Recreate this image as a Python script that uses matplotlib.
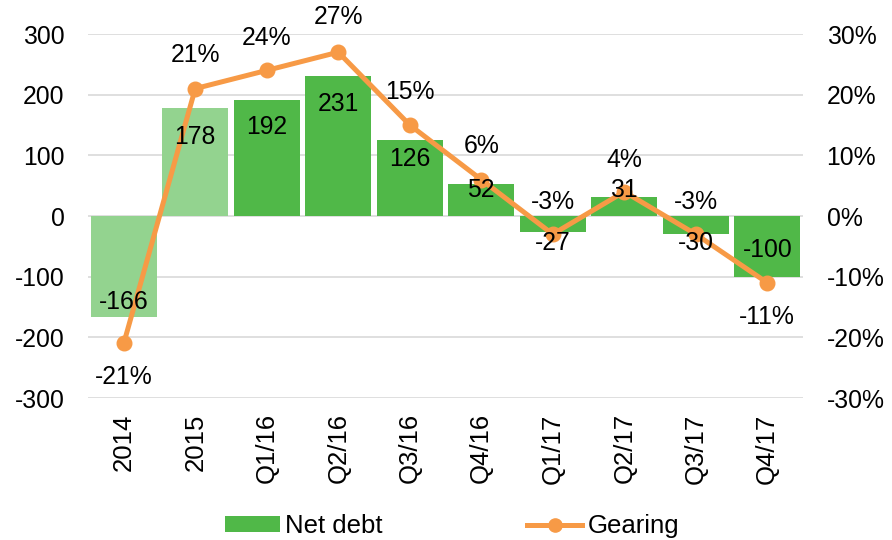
import matplotlib
matplotlib.use("Agg")
import matplotlib.pyplot as plt
from matplotlib.ticker import FuncFormatter, MultipleLocator
from matplotlib.patches import Patch
from matplotlib.lines import Line2D

plt.rcParams['font.family'] = ['Liberation Sans', 'DejaVu Sans']
plt.rcParams['axes.unicode_minus'] = False

categories = ["2014", "2015", "Q1/16", "Q2/16", "Q3/16", "Q4/16",
              "Q1/17", "Q2/17", "Q3/17", "Q4/17"]
net_debt = [-166, 178, 192, 231, 126, 52, -27, 31, -30, -100]
gearing = [-21, 21, 24, 27, 15, 6, -3, 4, -3, -11]

# vertical offsets (points) of value labels relative to the bar end / marker
net_debt_label_dy = [10.6, -20.9, -19.8, -20.2, -14, -4, -8, 5, -6.5, 19.4]
gearing_label_dy = [-24, 24, 23, 25, 24, 24, 23, 23, 23, -25]

dark_green = "#50B848"
light_green = "#93D38F"
orange = "#F79A46"
grid_color = "#D9D9D9"
fs = 17.8

fig = plt.figure(figsize=(8.92, 5.40), dpi=100)
ax = fig.add_axes([88/892, 1-398/540, (803-88)/892, (398-34)/540])
ax2 = ax.twinx()

x = list(range(len(categories)))
bar_colors = [light_green, light_green] + [dark_green] * (len(categories) - 2)
ax.bar(x, net_debt, width=0.92, color=bar_colors, zorder=2)

ax.set_ylim(-300, 300)
ax.set_xlim(-0.5, len(categories) - 0.5)
ax.yaxis.set_major_locator(MultipleLocator(100))
ax.grid(axis='y', color=grid_color, linewidth=1.2, zorder=0)
ax.set_axisbelow(True)
ax.set_xticks(x)
ax.set_xticklabels(categories, rotation=90, fontsize=18.5)
ax.tick_params(axis='x', length=0, pad=11)
ax.tick_params(axis='y', length=0, pad=17, labelsize=fs)

ax2.set_ylim(-30, 30)
ax2.yaxis.set_major_locator(MultipleLocator(10))
ax2.yaxis.set_major_formatter(FuncFormatter(lambda v, p: f"{v:.0f}%"))
ax2.tick_params(axis='y', length=0, pad=17, labelsize=fs)
ax2.plot(x, gearing, color=orange, linewidth=3.6, marker='o',
         markersize=10.5, zorder=3)

for a in (ax, ax2):
    for s in a.spines.values():
        s.set_visible(False)

# bar value labels sit above the gearing line, so they live on ax2
for xi, v, dy in zip(x, net_debt, net_debt_label_dy):
    ax2.annotate(f"{v}", (xi, v), xycoords=ax.transData, xytext=(0, dy),
                 textcoords='offset points', ha='center', va='center',
                 fontsize=fs, zorder=5)

for xi, g, dy in zip(x, gearing, gearing_label_dy):
    ax2.annotate(f"{g}%", (xi, g), xytext=(0, dy), textcoords='offset points',
                 ha='center', va='center', fontsize=fs, zorder=5,
                 annotation_clip=False)

handles = [Patch(facecolor=dark_green, edgecolor='none', label="Net debt"),
           Line2D([0], [0], color=orange, linewidth=3.6, marker='o',
                  markersize=9.5, label="Gearing")]
fig.legend(handles=handles, loc='center', bbox_to_anchor=(452/892, 1-526/540),
           ncol=2, frameon=False, fontsize=18.5, handlelength=2.15,
           handletextpad=0.2, columnspacing=5.6, handleheight=0.56,
           borderpad=0, borderaxespad=0)

fig.savefig("out.png", dpi=100)
